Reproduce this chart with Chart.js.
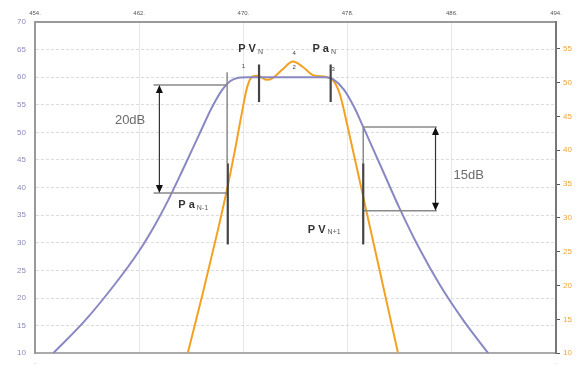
<!DOCTYPE html>
<html>
<head>
<meta charset="utf-8">
<script src="https://cdn.jsdelivr.net/npm/chart.js@4.4.1/dist/chart.umd.min.js"></script>
<style>
  html, body { margin: 0; padding: 0; background: #fff; }
  #wrap { width: 588px; height: 367px; }
</style>
</head>
<body>
<div id="wrap"><canvas id="maskChart" width="588" height="367"></canvas></div>
<script>
// Purple: wide emission (left axis)
const wideFreq  = [455.4, 457.8, 460.1, 461.9, 463.2, 464.2, 465.3, 466.6, 467.6, 468.4, 469.0, 469.6, 470.2, 473.5, 476.3, 476.9, 477.7, 478.5, 479.2, 480.6, 482.0, 483.5, 485.1, 486.9, 488.8];
const wideLevel = [10, 15.8, 22.4, 28.2, 33.2, 37.6, 43.0, 49.6, 54.6, 57.8, 59.3, 59.9, 60.0, 60.0, 60.0, 59.6, 57.8, 54.6, 51.0, 43.6, 36.2, 29.0, 22.3, 15.9, 10];

// Orange: channel signal (right axis)
const chanFreq  = [465.74, 466.9, 467.97, 468.74, 469.35, 469.89, 470.3, 470.7, 471.1, 471.81, 472.27, 473.03, 473.8, 474.57, 475.34, 476.4, 476.9, 477.4, 478.0, 479.2, 480.5, 481.86];
const chanLevel = [10.1, 19.0, 27.6, 34.2, 40.0, 45.6, 49.4, 50.9, 51.0, 50.4, 50.7, 52.0, 53.1, 52.3, 51.1, 50.8, 50.3, 48.3, 43.5, 33.1, 21.9, 10.1];

const topTicks = [454, 462, 470, 478, 486, 494];
const bottomTickText = ['8', '4'];
const leftRange = [10, 70];
const rightRange = [10, 58.95];

// annotations, in data units (x: frequency, y: left axis)
const brackets = [
  { x1: 463.1, x2: 468.75, arrowX: 463.55, top: 58.6, bottom: 39.0 },
  { x1: 479.2, x2: 484.85, arrowX: 484.75, top: 51.0, bottom: 35.8 }
];
const thinLines = [
  { x: 468.75, y1: 60.9, y2: 44.4 },
  { x: 479.2, y1: 51.0, y2: 44.4 }
];
const markers = [
  { x: 468.8, y1: 44.4, y2: 29.7 },
  { x: 479.2, y1: 44.4, y2: 29.7 },
  { x: 471.2, y1: 62.3, y2: 55.5 },
  { x: 476.7, y1: 62.3, y2: 55.5 }
];
const dbLabels = [
  { text: '20dB', x: 461.3, y: 52.1 },
  { text: '15dB', x: 487.3, y: 42.2 }
];
const powerLabels = [
  { main: 'P V', sub: 'N',   x: 469.6, y: 65.1 },
  { main: 'P a', sub: 'N',   x: 475.3, y: 65.1 },
  { main: 'P a', sub: 'N-1', x: 465.0, y: 36.9 },
  { main: 'P V', sub: 'N+1', x: 474.95, y: 32.4 }
];
const pointNums = [
  { text: '1', x: 470.0, y: 61.9 },
  { text: '2', x: 473.9, y: 61.8 },
  { text: '3', x: 476.9, y: 61.4 },
  { text: '4', x: 473.9, y: 64.4 }
];

const toXY = (xs, ys) => xs.map((x, i) => ({ x: x, y: ys[i] }));

const annotate = {
  id: 'annotate',
  afterDatasetsDraw(chart) {
    const ctx = chart.ctx;
    const sx = chart.scales.x, sy = chart.scales.y;
    const px = v => sx.getPixelForValue(v);
    const py = v => sy.getPixelForValue(v);
    ctx.save();

    // bracket lines
    ctx.strokeStyle = '#8a8a8a';
    ctx.lineWidth = 1.5;
    brackets.forEach(b => {
      ctx.beginPath();
      ctx.moveTo(px(b.x1), py(b.top)); ctx.lineTo(px(b.x2), py(b.top));
      ctx.moveTo(px(b.x1), py(b.bottom)); ctx.lineTo(px(b.x2), py(b.bottom));
      ctx.stroke();
    });
    thinLines.forEach(l => {
      ctx.beginPath();
      ctx.moveTo(px(l.x), py(l.y1)); ctx.lineTo(px(l.x), py(l.y2));
      ctx.stroke();
    });

    // double arrows
    brackets.forEach(b => {
      const ax = px(b.arrowX), t = py(b.top), bt = py(b.bottom);
      ctx.strokeStyle = '#333';
      ctx.lineWidth = 1.2;
      ctx.beginPath();
      ctx.moveTo(ax, t + 6); ctx.lineTo(ax, bt - 6);
      ctx.stroke();
      ctx.fillStyle = '#111';
      ctx.beginPath();
      ctx.moveTo(ax, t); ctx.lineTo(ax - 3.5, t + 8); ctx.lineTo(ax + 3.5, t + 8); ctx.closePath();
      ctx.moveTo(ax, bt); ctx.lineTo(ax - 3.5, bt - 8); ctx.lineTo(ax + 3.5, bt - 8); ctx.closePath();
      ctx.fill();
    });

    // dark markers
    ctx.strokeStyle = '#444';
    ctx.lineWidth = 2.2;
    markers.forEach(m => {
      ctx.beginPath();
      ctx.moveTo(px(m.x), py(m.y1)); ctx.lineTo(px(m.x), py(m.y2));
      ctx.stroke();
    });

    // texts
    ctx.textBaseline = 'middle';
    ctx.textAlign = 'center';
    ctx.fillStyle = '#6b6b6b';
    ctx.font = '13px "Liberation Sans", Arial, sans-serif';
    dbLabels.forEach(l => ctx.fillText(l.text, px(l.x), py(l.y)));

    ctx.textAlign = 'left';
    powerLabels.forEach(l => {
      const x0 = px(l.x), y0 = py(l.y);
      ctx.fillStyle = '#333';
      ctx.font = 'bold 11px "Liberation Sans", Arial, sans-serif';
      ctx.fillText(l.main, x0, y0);
      const w = ctx.measureText(l.main).width;
      ctx.font = '7px "Liberation Sans", Arial, sans-serif';
      ctx.fillStyle = '#555';
      ctx.fillText(l.sub, x0 + w + 2, y0 + 3);
    });

    ctx.textAlign = 'center';
    ctx.font = '6px "Liberation Sans", Arial, sans-serif';
    ctx.fillStyle = '#444';
    pointNums.forEach(n => ctx.fillText(n.text, px(n.x), py(n.y)));
    ctx.restore();
  }
};

new Chart(document.getElementById('maskChart'), {
  type: 'line',
  data: {
    datasets: [
      {
        data: toXY(wideFreq, wideLevel),
        borderColor: '#8a88c4',
        borderWidth: 2,
        pointRadius: 0,
        cubicInterpolationMode: 'monotone',
        yAxisID: 'y',
        xAxisID: 'x'
      },
      {
        data: toXY(chanFreq, chanLevel),
        borderColor: '#f4a120',
        borderWidth: 2,
        pointRadius: 0,
        cubicInterpolationMode: 'monotone',
        yAxisID: 'y1',
        xAxisID: 'x'
      }
    ]
  },
  options: {
    responsive: false,
    animation: false,
    layout: { padding: 0 },
    plugins: { legend: { display: false }, tooltip: { enabled: false } },
    scales: {
      x: {
        type: 'linear',
        position: 'top',
        min: topTicks[0],
        max: topTicks[topTicks.length - 1],
        afterBuildTicks: s => { s.ticks = topTicks.map(v => ({ value: v })); },
        afterFit: s => { s.height = 22; },
        ticks: {
          callback: v => v + '.',
          font: { size: 6, family: '"Liberation Sans", Arial' },
          color: '#555',
          padding: 5,
          maxRotation: 0
        },
        grid: { color: 'rgba(215,215,215,0.6)', drawTicks: false },
        border: { color: '#999', width: 2 }
      },
      x2: {
        type: 'linear',
        position: 'bottom',
        min: topTicks[0],
        max: topTicks[topTicks.length - 1],
        afterBuildTicks: s => { s.ticks = [{ value: topTicks[0] }, { value: topTicks[topTicks.length - 1] }]; },
        afterFit: s => { s.height = 10; },
        ticks: {
          callback: (v, i) => bottomTickText[i],
          font: { size: 6, family: '"Liberation Sans", Arial' },
          color: '#555',
          padding: 1,
          maxRotation: 0
        },
        grid: { display: false },
        border: { color: '#aaa', width: 2 }
      },
      y: {
        position: 'left',
        min: leftRange[0],
        max: leftRange[1],
        afterFit: s => { s.width = 35; },
        ticks: {
          stepSize: 5,
          font: { size: 8, family: '"Liberation Sans", Arial' },
          color: '#8a8ab8',
          padding: 9
        },
        grid: { color: 'rgba(205,205,205,0.7)', drawTicks: false, lineWidth: 1 },
        border: { color: '#999', width: 2, dash: [3, 2] }
      },
      y1: {
        position: 'right',
        min: rightRange[0],
        max: rightRange[1],
        afterBuildTicks: s => { s.ticks = s.ticks.filter(t => t.value % 5 === 0); },
        afterFit: s => { s.width = 32; },
        ticks: {
          stepSize: 5,
          font: { size: 8, family: '"Liberation Sans", Arial' },
          color: '#f0a33a',
          padding: 3
        },
        grid: { drawOnChartArea: false, color: '#555', tickLength: 4 },
        border: { color: '#777', width: 2 }
      }
    }
  },
  plugins: [annotate]
});
</script>
</body>
</html>
